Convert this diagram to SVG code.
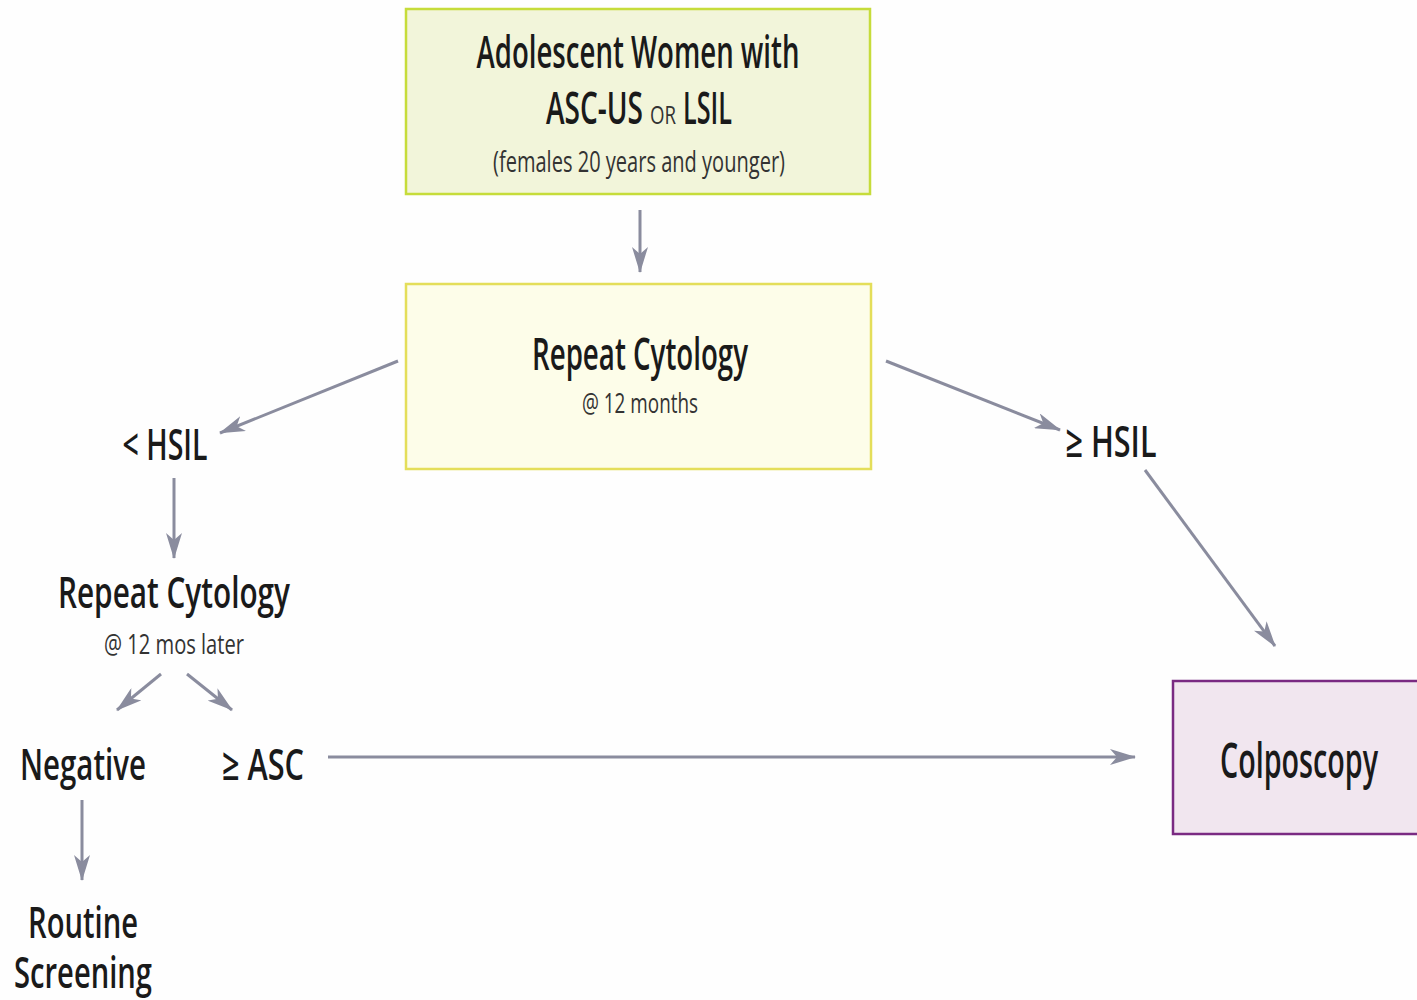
<svg xmlns="http://www.w3.org/2000/svg" width="1417" height="1000" viewBox="0 0 1417 1000">
<style>
text{font-family:"Open Sans","Noto Sans","Liberation Sans",sans-serif;fill:#1a1a1a;text-anchor:middle}
.b{font-weight:600}
.s{font-weight:400;fill:#333}
.l{text-anchor:start}
.c{stroke:#8a8c9e;stroke-width:3;fill:none;marker-end:url(#ah)}
</style>
<defs>
<marker id="ah" viewBox="0 0 26 16" refX="25" refY="8" markerWidth="26" markerHeight="16" markerUnits="userSpaceOnUse" orient="auto">
<path d="M0,0 L26,8 L0,16 L7,8 Z" fill="#8a8c9e"/>
</marker>
</defs>
<rect width="1417" height="1000" fill="#fefefe"/>
<g id="n1">
<rect x="406" y="9" width="464" height="185" fill="#f2f5da" stroke="#c6dc3a" stroke-width="2.5"/>
<text x="638" y="68" font-size="46" class="b" textLength="323" lengthAdjust="spacingAndGlyphs">Adolescent Women with</text>
<text x="546" y="124" font-size="45" class="b l" textLength="97" lengthAdjust="spacingAndGlyphs">ASC-US</text>
<text x="650" y="124" font-size="26" class="s l" textLength="26" lengthAdjust="spacingAndGlyphs">OR</text>
<text x="683" y="124" font-size="45" class="b l" textLength="49" lengthAdjust="spacingAndGlyphs">LSIL</text>
<text x="639" y="172" font-size="30" class="s" textLength="292" lengthAdjust="spacingAndGlyphs">(females 20 years and younger)</text>
</g>
<g id="n2">
<rect x="406" y="284" width="465" height="185" fill="#fdfde9" stroke="#e4de5a" stroke-width="2.5"/>
<text x="640" y="370" font-size="46" class="b" textLength="216" lengthAdjust="spacingAndGlyphs">Repeat Cytology</text>
<text x="640" y="413" font-size="28" class="s" textLength="116" lengthAdjust="spacingAndGlyphs">@ 12 months</text>
</g>
<g id="n3">
<text x="165" y="460" font-size="44" class="b" textLength="85" lengthAdjust="spacingAndGlyphs">&lt; HSIL</text>
</g>
<g id="n4">
<text x="1111" y="457" font-size="44" class="b" textLength="91" lengthAdjust="spacingAndGlyphs">≥ HSIL</text>
</g>
<g id="n5">
<text x="174" y="608" font-size="44" class="b" textLength="232" lengthAdjust="spacingAndGlyphs">Repeat Cytology</text>
<text x="174" y="654" font-size="28" class="s" textLength="140" lengthAdjust="spacingAndGlyphs">@ 12 mos later</text>
</g>
<g id="n6">
<text x="83" y="780" font-size="44" class="b" textLength="126" lengthAdjust="spacingAndGlyphs">Negative</text>
</g>
<g id="n7">
<text x="263" y="780" font-size="44" class="b" textLength="82" lengthAdjust="spacingAndGlyphs">≥ ASC</text>
</g>
<g id="n8">
<rect x="1173" y="681" width="250" height="153" fill="#f1e6ef" stroke="#7a2a82" stroke-width="2.5"/>
<text x="1299" y="778" font-size="48" class="b" textLength="158" lengthAdjust="spacingAndGlyphs">Colposcopy</text>
</g>
<g id="n9">
<text x="83" y="938" font-size="44" class="b" textLength="110" lengthAdjust="spacingAndGlyphs">Routine</text>
<text x="83" y="988" font-size="44" class="b" textLength="138" lengthAdjust="spacingAndGlyphs">Screening</text>
</g>
<g id="connectors">
<line class="c" x1="640" y1="210" x2="640" y2="272"/>
<line class="c" x1="398" y1="361" x2="220" y2="433"/>
<line class="c" x1="886" y1="361" x2="1060" y2="430"/>
<line class="c" x1="1145" y1="470" x2="1275" y2="646"/>
<line class="c" x1="174" y1="478" x2="174" y2="558"/>
<line class="c" x1="161" y1="674" x2="117" y2="710"/>
<line class="c" x1="187" y1="674" x2="232" y2="710"/>
<line class="c" x1="328" y1="757" x2="1135" y2="757"/>
<line class="c" x1="82" y1="800" x2="82" y2="880"/>
</g>
</svg>
